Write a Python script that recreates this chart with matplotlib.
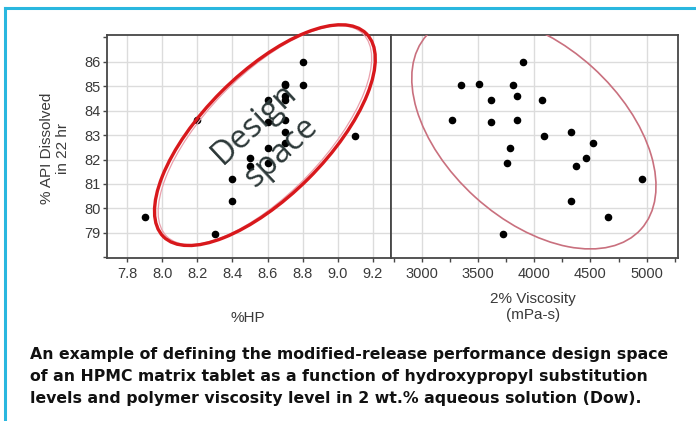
import matplotlib
matplotlib.use("Agg")
import matplotlib.pyplot as plt
import matplotlib.transforms as mtransforms
from matplotlib.patches import Ellipse
from matplotlib.lines import Line2D

# data (one row per tablet)
api_dissolved = [86.0, 85.11, 85.07, 85.07, 84.6, 84.42, 84.42, 83.63, 83.6, 83.52, 83.11,
                 82.95, 82.66, 82.48, 82.07, 81.86, 81.75, 81.22, 80.29, 79.63, 78.97]
hp_pct = [8.8, 8.7, 8.8, 8.7, 8.7, 8.6, 8.7, 8.7, 8.2, 8.6, 8.7,
          9.1, 8.7, 8.6, 8.5, 8.6, 8.5, 8.4, 8.4, 7.9, 8.3]
viscosity = [3900, 3510, 3345, 3815, 3850, 3620, 4065, 3845, 3265, 3620, 4330,
             4085, 4525, 3785, 4460, 3760, 4370, 4960, 4325, 4655, 3720]

hp_ticks = [7.8, 8.0, 8.2, 8.4, 8.6, 8.8, 9.0, 9.2]
visc_ticks = [3000, 3500, 4000, 4500, 5000]
visc_minor = [2750, 3250, 3750, 4250, 4750, 5250]
api_ticks = [79, 80, 81, 82, 83, 84, 85, 86]
api_minor = [78, 87]

caption = [
    "An example of defining the modified-release performance design space",
    "of an HPMC matrix tablet as a function of hydroxypropyl substitution",
    "levels and polymer viscosity level in 2 wt.% aqueous solution (Dow).",
]

W, H = 696, 421
fig = plt.figure(figsize=(W / 100, H / 100), dpi=100)
plt.rcParams["font.family"] = ["Liberation Sans", "DejaVu Sans"]

def fx(px):
    return px / W

def fy(py):
    return 1 - py / H

ax1 = fig.add_axes([fx(107), fy(258), fx(391) - fx(107), fy(35) - fy(258)])
ax2 = fig.add_axes([fx(391), fy(258), fx(678) - fx(391), fy(35) - fy(258)])

for ax in (ax1, ax2):
    ax.set_axisbelow(True)
    ax.grid(True, which="major", color="#dcdcdc", lw=1)
    for s in ax.spines.values():
        s.set_color("#474747")
        s.set_linewidth(1.3)
    ax.tick_params(which="both", length=3, width=1, color="#474747",
                   labelsize=10.5, labelcolor="#3a3a3a")
    ax.tick_params(axis="x", pad=3.5)
    ax.tick_params(axis="y", pad=1.5)
    ax.set_yticks(api_ticks)
    ax.set_yticks(api_minor, minor=True)

ax1.scatter(hp_pct, api_dissolved, s=20, color="black", zorder=3)
ax2.scatter(viscosity, api_dissolved, s=20, color="black", zorder=3)

ax1.set_xticks(hp_ticks)
ax1.set_xticklabels([f"{t:.1f}" for t in hp_ticks])
ax2.set_xticks(visc_ticks)
ax2.set_xticks(visc_minor, minor=True)
ax2.tick_params(axis="y", which="both", left=False, labelleft=False)


def ring(ax, cx, cy, w_px, h_px, angle, **kw):
    # ellipse sized in pixels, centred on a data point
    tr = fig.dpi_scale_trans + mtransforms.ScaledTranslation(cx, cy, ax.transData)
    e = Ellipse((0, 0), w_px / 100, h_px / 100, angle=angle, transform=tr,
                fill=False, **kw)
    ax.add_patch(e)
    return e

# design space outlines
ring(ax1, 8.585, 83.0, 282, 118, 46.0, color="#eaa0ac", lw=0.9, clip_on=False, zorder=4)
ring(ax1, 8.585, 83.0, 287, 123, 45.0, color="#d8181c", lw=2.4, clip_on=False, zorder=4)
ring(ax2, 3997, 83.12, 289, 175, -42.2, color="#c9707e", lw=1.2, zorder=4)

ax1.text(8.6, 82.9, "Design\nspace", rotation=43, rotation_mode="anchor",
         ha="center", va="center", multialignment="center", fontsize=23.5,
         family="Open Sans", color="#2c3838", linespacing=1.25, zorder=5)

ax1.set_xlim(7.686, 9.303)
ax2.set_xlim(2727, 5278)
for ax in (ax1, ax2):
    ax.set_ylim(77.97, 87.1)

fig.text(fx(55), fy(148), "% API Dissolved\nin 22 hr", rotation=90, ha="center",
         va="center", multialignment="center", fontsize=11, color="#3a3a3a")
fig.text(fx(248), fy(318), "%HP", ha="center", va="center", fontsize=11, color="#3a3a3a")
fig.text(fx(533), fy(307), "2% Viscosity\n(mPa-s)", ha="center", va="center",
         multialignment="center", fontsize=11, color="#3a3a3a")

for i, line in enumerate(caption):
    fig.text(fx(30), fy(355 + 21.5 * i), line, ha="left", va="center",
             fontsize=11.3, fontweight="bold", family="DejaVu Sans", color="#111111")

# cyan frame (top and left edges)
fig.add_artist(Line2D([fx(5), fx(5)], [fy(8), 0], color="#2ab7df", lw=2.2))
fig.add_artist(Line2D([fx(5), 1], [fy(8), fy(8)], color="#2ab7df", lw=2.2))

fig.savefig("out.png", dpi=100, facecolor="white")
